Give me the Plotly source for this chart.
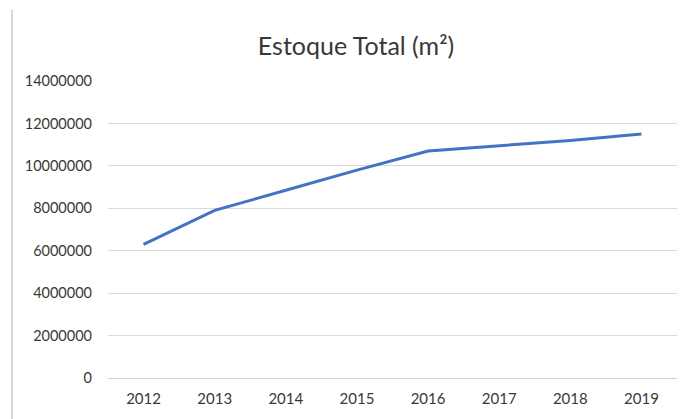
import plotly.graph_objects as go

years = ["2012", "2013", "2014", "2015", "2016", "2017", "2018", "2019"]
estoque = [6300000, 7900000, 8850000, 9800000, 10700000, 10950000, 11200000, 11500000]
y_ticks = [0, 2000000, 4000000, 6000000, 8000000, 10000000, 12000000, 14000000]
y_tick_labels = [str(v) for v in y_ticks]
title_text = "Estoque Total (m²)"

W, H = 687, 419
L, R, T, B = 100, 18, 73, 49
PW, PH = W - L - R, H - T - B

fig = go.Figure()
fig.add_trace(go.Scatter(
    x=years, y=estoque, mode="lines",
    line=dict(color="#4472C4", width=3),
    showlegend=False,
))

fig.update_layout(
    width=W, height=H,
    margin=dict(l=L, r=R, t=T, b=B),
    paper_bgcolor="white", plot_bgcolor="white",
    font=dict(family="Lato, 'Open Sans', sans-serif", color="#383838", size=15),
    title=dict(text=title_text, xref="container", yref="container",
               x=348 / W, xanchor="center", y=1 - 38 / H, yanchor="middle",
               font=dict(size=25, color="#383838")),
    xaxis=dict(type="category", range=[-0.5, 7.5], showgrid=False,
               showline=False, ticks="", ticklabelstandoff=10,
               tickfont=dict(size=15, color="#383838")),
    yaxis=dict(range=[0, 14000000], tickvals=y_ticks, ticktext=y_tick_labels,
               showgrid=True, gridcolor="#D9D9D9", gridwidth=1.2,
               zeroline=True, zerolinecolor="#D0D0D0", zerolinewidth=1.2,
               showline=False, ticks="", ticklabelstandoff=15,
               tickfont=dict(size=14.5, color="#383838")),
    shapes=[dict(type="line", xref="paper", yref="paper",
                 x0=(4 - L) / PW, x1=(4 - L) / PW,
                 y0=-B / PH, y1=(H - B - 2) / PH,
                 line=dict(color="#C8C8C8", width=1.5))],
)

fig.write_html("out.html")
